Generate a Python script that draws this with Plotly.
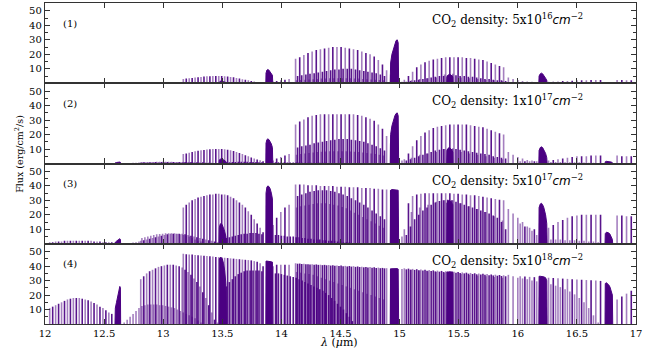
import plotly.graph_objects as go
from plotly.subplots import make_subplots

# ---------------- data ----------------
panel_labels = ["(1)", "(2)", "(3)", "(4)"]
density_labels = ["5x10<sup>16</sup>", "1x10<sup>17</sup>", "5x10<sup>17</sup>", "5x10<sup>18</sup>"]
x_ticks = [12, 12.5, 13, 13.5, 14, 14.5, 15, 15.5, 16, 16.5, 17]
y_ticks = [10, 20, 30, 40, 50]

# line positions (micron) and heights per panel [p1, p2, p3, p4]
x_A = [12.04, 12.065, 12.09, 12.115, 12.14, 12.165, 12.19, 12.215, 12.24, 12.265, 12.29,
       12.315, 12.34, 12.365, 12.39, 12.415, 12.44, 12.465, 12.49, 12.515, 12.54, 12.565]
h_A = [[0.2, 0.2, 0.2, 0.2, 0.2, 0.2, 0.2, 0.2, 0.2, 0.2, 0.2, 0.2, 0.2, 0.2, 0.2, 0.2, 0.2, 0.2, 0.2, 0.2, 0.2, 0.2],
       [0.3, 0.3, 0.3, 0.3, 0.4, 0.4, 0.4, 0.4, 0.4, 0.4, 0.4, 0.4, 0.4, 0.4, 0.4, 0.4, 0.3, 0.3, 0.3, 0.3, 0.3, 0.3],
       [1, 1, 1.5, 1.5, 1.5, 2, 2, 2, 2, 2, 2, 2, 2, 2, 2, 1.5, 1.5, 1.5, 1, 1, 1, 1],
       [11, 12, 13, 14, 15, 16, 17, 17.5, 18, 18, 18, 17.5, 17, 16.5, 15.5, 14.5, 13.5, 12, 11, 9.5, 8, 7]]

x_B = [12.67, 12.695, 12.72, 12.745, 12.77, 12.795, 12.82, 12.845, 12.87, 12.895, 12.92, 12.945, 12.97,
       12.995, 13.02, 13.045, 13.07, 13.095, 13.12, 13.145, 13.17, 13.195, 13.22, 13.245, 13.27, 13.295, 13.32]
h_B = [[0.2, 0.2, 0.2, 0.3, 0.3, 0.3, 0.4, 0.4, 0.4, 0.4, 0.4, 0.4, 0.4, 0.4, 0.4, 0.4, 0.4, 0.4, 0.4, 0.3, 0.3, 0.3, 0.3, 0.2, 0.2, 0.2, 0.2],
       [0.2, 0.3, 0.4, 0.5, 0.6, 0.7, 1, 1, 1, 1.1, 1.1, 1.2, 1.2, 1.2, 1.2, 1.2, 1.2, 1.1, 1.1, 1, 1, 0.9, 0.8, 0.7, 0.6, 0.5, 0.4],
       [0.3, 0.5, 0.5, 0.8, 1, 1.5, 4, 4.5, 5, 5.5, 6, 6.5, 6.8, 7, 7.2, 7.3, 7.3, 7.2, 7, 6.5, 6, 5.5, 5, 4, 3, 2, 1.5],
       [1, 3, 5, 7, 9, 11, 12.5, 13, 13.5, 13.5, 13.5, 13.5, 13, 13, 12.5, 12, 11.5, 11, 10, 9, 8, 7, 6, 5, 4, 2.5, 1]]

x_Y = [12.81, 12.835, 12.86, 12.885, 12.91, 12.935, 12.96, 12.985, 13.01, 13.035, 13.06, 13.085, 13.11, 13.135,
       13.16, 13.185, 13.21, 13.235, 13.26, 13.285, 13.31, 13.335, 13.36, 13.385, 13.41, 13.435, 13.46]
h_Y = [[0.3, 0.3, 0.3, 0.3, 0.3, 0.3, 0.3, 0.3, 0.3, 0.3, 0.3, 0.3, 0.3, 0.3, 0.3, 0.3, 0.3, 0.3, 0.3, 0.3, 0.3, 0.3, 0.3, 0.3, 0.3, 0.3, 0.3],
       [0.8, 0.8, 0.9, 0.9, 1, 1, 1, 1, 1, 1, 1, 1, 1, 1, 1, 1, 1, 1, 0.9, 0.9, 0.8, 0.8, 0.7, 0.6, 0.5, 0.4, 0.3],
       [2, 2.5, 3, 3.5, 4, 4.5, 5, 5.5, 6, 6.5, 7, 7, 7, 7, 7, 6.5, 6, 5.5, 5, 4.5, 4, 3.5, 3, 2.5, 2, 1.5, 1],
       [31, 33, 35, 36.5, 37.5, 38.5, 39.5, 40, 40.5, 41, 41, 41, 40.5, 40, 39, 37.5, 36, 34, 31.5, 29, 26, 22, 18, 13, 8, 3, 1]]

x_C = [13.17, 13.195, 13.22, 13.245, 13.27, 13.295, 13.32, 13.345, 13.37, 13.395, 13.42, 13.445, 13.47, 13.495,
       13.52, 13.545, 13.57, 13.595, 13.62, 13.645, 13.67, 13.695, 13.72, 13.745, 13.77, 13.795, 13.82, 13.845]
h_C = [[3, 3.2, 3.5, 3.7, 4, 4.2, 4.4, 4.6, 4.8, 4.9, 5, 5, 5, 5, 4.9, 4.7, 4.4, 4.1, 3.7, 3.3, 2.8, 2.4, 2, 1.6, 1.2, 0.9, 0.6, 0.4],
       [6.5, 7, 7.5, 8, 8.5, 8.8, 9.1, 9.4, 9.6, 9.8, 10, 10, 10, 10, 9.8, 9.5, 9.1, 8.6, 8, 7.3, 6.5, 5.7, 5, 4.2, 3.5, 2.8, 2.2, 1.6],
       [25, 27, 28.5, 30, 31, 32, 32.5, 33, 33.5, 34, 34, 34.5, 34.5, 34, 34, 33.5, 32.5, 31.5, 30, 28.5, 27, 25, 22.5, 20, 17, 14, 11, 8],
       [48.5, 48.3, 48.1, 48, 47.8, 47.6, 47.4, 47.2, 47, 46.8, 46.6, 46.4, 46.2, 46, 45.8, 45.6, 45.4, 45.2, 45, 44.8, 44.6, 44.4, 44.2, 44, 43.5, 43, 42, 40]]

x_D = [13.535, 13.56, 13.585, 13.61, 13.635, 13.66, 13.685, 13.71, 13.735, 13.76, 13.785, 13.81, 13.835, 13.95,
       13.975, 14.0, 14.025, 14.05, 14.075, 14.1, 14.125, 14.15, 14.175, 14.2, 14.225, 14.25, 14.275, 14.3,
       14.325, 14.35, 14.375, 14.4, 14.425, 14.45, 14.475, 14.5, 14.525, 14.55, 14.575, 14.6]
h_D = [[0.3, 0.3, 0.3, 0.3, 0.3, 0.3, 0.3, 0.3, 0.3, 0.3, 0.3, 0.3, 0.3, 0.3, 0.3, 0.3, 0.3, 0.3, 0.3, 0.3,
        0.3, 0.3, 0.3, 0.3, 0.3, 0.3, 0.3, 0.3, 0.3, 0.3, 0.3, 0.3, 0.3, 0.3, 0.3, 0.3, 0.3, 0.3, 0.3, 0.3],
       [0.8, 0.9, 1, 1.1, 1.2, 1.2, 1.2, 1.2, 1.1, 1, 1, 0.9, 0.9, 0.8, 0.8, 0.8, 0.8, 0.7, 0.7, 0.7,
        0.7, 0.7, 0.6, 0.6, 0.6, 0.6, 0.5, 0.5, 0.5, 0.5, 0.5, 0.4, 0.4, 0.4, 0.4, 0.3, 0.3, 0.3, 0.3, 0.2],
       [4, 4.5, 5, 5.5, 6, 6.5, 7, 7, 7.5, 7.5, 7.5, 7, 6.5, 6, 6, 5.5, 5.5, 5, 5, 5,
        4.5, 4.5, 4, 4, 3.5, 3.5, 3, 3, 3, 2.5, 2.5, 2, 2, 2, 1.5, 1.5, 1, 1, 1, 0.5],
       [26, 29, 31, 33, 34.5, 35.5, 36.5, 37, 37, 37, 37, 37, 36.5, 35, 35, 34.5, 34, 33.5, 33, 32.5,
        32, 31, 30, 29, 28, 27, 26, 25, 24, 23, 21.5, 20, 18, 16, 14, 12, 10, 7.5, 5, 2]]

x_E = [13.93, 13.96, 13.995, 14.03, 14.065]
h_E = [[1, 1.5, 2, 2.5, 3],
       [2, 3.5, 4.5, 5.5, 6.5],
       [13, 18, 22, 25, 27],
       [40, 41, 41, 41, 41]]

x_R1 = [14.12, 14.155, 14.19, 14.225, 14.26, 14.295, 14.33, 14.365, 14.40, 14.435, 14.47, 14.505,
        14.54, 14.575, 14.61, 14.645, 14.68, 14.715, 14.75, 14.785, 14.82, 14.855, 14.89, 14.925]
h_R1 = [[17, 18, 19.5, 21, 22, 23, 23.5, 24, 24.5, 25, 25, 25, 24.5, 24, 23.5, 23, 22, 21, 20, 18.5, 16, 13, 9, 6],
        [27, 29, 30.5, 32, 33, 33.5, 34, 34, 34, 34, 34, 34, 34, 34, 34, 33.5, 33, 32, 31, 29.5, 27, 24, 19, 14],
        [41, 41, 41, 40.5, 40.5, 40.5, 40, 40, 40, 40, 39.5, 39.5, 39.5, 39, 39, 39, 38.5, 38.5, 38.5, 38, 38, 37.5, 37.5, 37],
        [42, 41.8, 41.6, 41.4, 41.3, 41.2, 41, 40.9, 40.8, 40.6, 40.5, 40.4, 40.2, 40.1, 40, 39.8, 39.6, 39.5, 39.4, 39.2, 39, 38.8, 38.6, 38.4]]

x_R2 = [14.137, 14.172, 14.207, 14.242, 14.277, 14.312, 14.347, 14.382, 14.417, 14.452, 14.487,
        14.522, 14.557, 14.592, 14.627, 14.662, 14.697, 14.732, 14.767, 14.802, 14.837, 14.872]
h_R2 = [[5, 5.5, 6, 6.5, 7, 7.5, 8, 8.5, 9, 9.5, 9.5, 10, 10, 10, 9.5, 9, 8.5, 8, 7.5, 7, 6, 5],
        [11, 12, 12.5, 13, 14, 14.5, 15, 15.5, 16, 16.5, 17, 17, 17, 16.5, 16, 15.5, 15, 14, 13, 12, 10.5, 9],
        [33, 34, 35, 36, 36.5, 37, 37, 37, 36.5, 36, 35, 34, 33, 31.5, 30, 28.5, 27, 25, 23, 21, 19, 17],
        [41.7, 41.5, 41.3, 41.2, 41, 40.9, 40.7, 40.6, 40.4, 40.3, 40.1, 40, 39.8, 39.7, 39.5, 39.4, 39.2, 39.1, 38.9, 38.8, 38.6, 38.5]]

x_R3 = [14.129, 14.164, 14.199, 14.234, 14.269, 14.304, 14.339, 14.374, 14.409, 14.444, 14.479,
        14.514, 14.549, 14.584, 14.619, 14.654, 14.689, 14.724, 14.759, 14.794, 14.829, 14.864]
h_R3 = [[2, 2.2, 2.4, 2.6, 2.8, 3, 3.2, 3.3, 3.4, 3.5, 3.5, 3.5, 3.5, 3.4, 3.3, 3.2, 3, 2.8, 2.6, 2.4, 2.2, 2],
        [6, 6.5, 7, 7.3, 7.6, 7.9, 8.1, 8.3, 8.4, 8.5, 8.5, 8.5, 8.4, 8.3, 8.1, 7.9, 7.6, 7.3, 7, 6.5, 6, 5.5],
        [25, 26, 26.5, 27, 27.5, 28, 28, 28, 27.5, 27, 26.5, 25.5, 24.5, 23, 21.5, 20, 18.5, 17, 15.5, 14, 12.5, 11],
        [36, 35.5, 35, 34.5, 34, 33, 32, 31, 30, 29, 28, 27, 26, 25, 24, 23, 22, 21, 20, 19, 18, 17]]

x_P1 = [15.04, 15.075, 15.11, 15.145, 15.18, 15.215, 15.25, 15.285, 15.32, 15.355, 15.39, 15.425, 15.46,
        15.495, 15.53, 15.565, 15.6, 15.635, 15.67, 15.705, 15.74, 15.775, 15.81, 15.845, 15.88]
h_P1 = [[2.5, 5, 8, 11, 13, 14.5, 15.5, 16.5, 17, 17.5, 18, 18, 18, 18, 18, 17.5, 17.5, 17, 16.5, 16, 15, 14, 13, 12, 11],
        [3, 7, 12, 16, 19, 21.5, 23, 24.5, 25.5, 26, 26.5, 27, 27, 27, 27, 27, 26.5, 26, 25.5, 25, 24, 23, 22, 21, 20],
        [10, 28, 33, 34, 34.5, 35, 35, 35, 35, 35, 35, 35, 34.5, 34.5, 34, 34, 33.5, 33.5, 33, 32.5, 32, 31.5, 31, 30.5, 30],
        [38.5, 38.3, 38.1, 37.9, 37.7, 37.5, 37.3, 37.1, 36.9, 36.7, 36.5, 36.3, 36.1, 35.9, 35.7, 35.5, 35.3, 35.1, 34.9, 34.7, 34.5, 34.3, 34.1, 33.9, 33.7]]

x_P2 = [15.057, 15.092, 15.127, 15.162, 15.197, 15.232, 15.267, 15.302, 15.337, 15.372, 15.407, 15.442, 15.477,
        15.512, 15.547, 15.582, 15.617, 15.652, 15.687, 15.722, 15.757, 15.792, 15.827, 15.862, 15.897]
h_P2 = [[1, 1.5, 2, 2.5, 3, 3.5, 4, 4.5, 5, 5, 5.5, 5.5, 5.5, 5, 5, 4.5, 4.5, 4, 3.5, 3, 3, 2.5, 2, 2, 1.5],
        [2, 3, 4, 5, 6, 7, 8, 9, 9.5, 10, 10, 10, 10, 9.5, 9, 8.5, 8, 7.5, 7, 6.5, 6, 5, 4.5, 4, 3.5],
        [6, 12, 17, 20, 23, 25, 27, 28.5, 29.5, 30, 30.5, 30, 29, 28, 27, 26, 25, 24, 23, 22, 21, 19.5, 18, 15, 10],
        [37.8, 37.6, 37.4, 37.2, 37, 36.8, 36.6, 36.4, 36.2, 36, 35.8, 35.6, 35.4, 35.2, 35, 34.8, 34.6, 34.4, 34.2, 34, 33.8, 33.6, 33.4, 33.2, 33]]

x_P3 = [15.02, 15.1, 15.17, 15.24, 15.31, 15.38, 15.45, 15.52, 15.59, 15.66, 15.73, 15.8, 15.87]
h_P3 = [[1, 2, 3, 3.5, 4, 6, 6.5, 4, 3.5, 3, 2.5, 2, 1.5],
        [2, 4, 6, 7, 8, 10, 10.5, 8, 7, 6, 5, 4, 3],
        [5, 22, 25, 27, 29, 30, 30, 28, 26, 24, 22, 19, 16],
        [38, 37.5, 37, 36.5, 36, 35.5, 35, 34.5, 34, 33.5, 33, 32.5, 32]]

x_G = [15.92, 15.96, 16.0, 16.04, 16.08, 16.12, 16.16, 16.22, 16.28, 16.32, 16.36, 16.40, 16.44, 16.48,
       16.52, 16.56, 16.60, 16.64, 16.68]
h_G = [[4, 3, 2.2, 1.6, 1.2, 1, 0.8, 0.6, 0.6, 0.5, 0.5, 0.5, 0.5, 0.4, 0.4, 0.4, 0.3, 0.3, 0.2],
       [8, 6, 4.5, 3.5, 2.5, 2, 1.5, 1.2, 1, 1, 1, 0.9, 0.9, 0.8, 0.8, 0.7, 0.6, 0.5, 0.4],
       [24, 21, 18, 15, 12, 9, 6, 4, 3, 3, 3, 2.5, 2.5, 2.5, 2, 2, 1.5, 1.5, 1],
       [34, 33, 32, 31.5, 31, 30, 29.5, 28.5, 27.5, 26.5, 25.5, 24, 22.5, 20.5, 18, 15, 11, 6, 1]]

x_F = [16.02, 16.06, 16.1, 16.14, 16.26, 16.3, 16.34, 16.38, 16.42, 16.46, 16.5, 16.54, 16.58, 16.62,
       16.66, 16.7, 16.84, 16.88, 16.92, 16.96]
h_F = [[0.8, 0.8, 0.8, 0.8, 1, 1, 1.2, 1.5, 1.5, 1.8, 2, 2, 2, 2.2, 2.2, 2.2, 2.2, 2.2, 2, 2],
       [1.5, 1.5, 1.5, 1.5, 2, 2.5, 3, 3.5, 4, 4.5, 5, 5, 5, 5.5, 5.5, 5.5, 5.5, 5, 5, 5],
       [14, 12, 11, 10, 11, 13, 15, 16.5, 18, 19, 19.5, 20, 20, 20, 20, 20, 19.5, 19.5, 19, 19],
       [33, 32.8, 32.6, 32.4, 32, 31.8, 31.6, 31.4, 31.2, 31, 30.8, 30.6, 30.4, 30.2, 30, 29.8, 17, 19, 21, 23]]

# Q-branch profiles (dense, unresolved lines): x and heights per panel
q1263_x = [12.592, 12.595, 12.605, 12.615, 12.625, 12.633, 12.638, 12.64]
q1263_y = [[0, 0.3, 0.4, 0.5, 0.6, 0.6, 0.5, 0], [0, 0.5, 0.7, 0.9, 1, 1, 0.8, 0],
           [0, 1, 1.8, 2.5, 3.2, 3.5, 3, 0], [0, 11, 15, 19, 23, 26, 25, 0]]
q1348_x = [13.472, 13.475, 13.482, 13.49, 13.5, 13.51, 13.52, 13.53, 13.535]
q1348_y = [[0, 1, 1.4, 1.5, 1.4, 1.2, 1, 0.6, 0], [0, 2.5, 3, 3.2, 3, 2.6, 2, 1.4, 0],
           [0, 11, 13.5, 14, 13, 11, 8.5, 5, 0], [0, 45, 46, 46, 45, 42, 37, 28, 0]]
q1387_x = [13.868, 13.87, 13.877, 13.885, 13.895, 13.905, 13.915, 13.924, 13.927]
q1387_y = [[0, 7, 9, 9.5, 9, 8, 7, 5.5, 0], [0, 14, 16.5, 17, 16.5, 15, 13.5, 11, 0],
           [0, 35, 39, 40, 39.5, 38, 35, 31, 0], [0, 43.5, 43.5, 43.5, 43.3, 43, 43, 42.8, 0]]
q1498_x = [14.921, 14.924, 14.935, 14.948, 14.96, 14.97, 14.98, 14.988, 14.992]
q1498_y = [[0, 14, 20, 24, 27.5, 29.5, 30, 28, 0], [0, 20, 26, 30, 33, 34.5, 35, 33, 0],
           [0, 37, 37.5, 37.5, 37.5, 37.5, 37.5, 37, 0], [0, 38, 38.2, 38.3, 38.3, 38.3, 38.3, 38, 0]]
q1542_x = [15.398, 15.4, 15.41, 15.42, 15.43, 15.44, 15.45, 15.452]
q1542_y = [[0, 4.5, 5.5, 6.2, 6, 5.3, 4.5, 0], [0, 9, 10.5, 11, 10.5, 9.5, 8, 0],
           [0, 28, 29.5, 30, 29.5, 28.5, 27, 0], [0, 36, 36, 36, 36, 36, 36, 0]]
q1618_x = [16.178, 16.18, 16.19, 16.2, 16.21, 16.22, 16.235, 16.245, 16.248]
q1618_y = [[0, 5, 6.5, 7, 6.5, 5.5, 3.5, 2, 0], [0, 9, 11, 11.5, 11, 9.5, 7, 4, 0],
           [0, 25, 27.5, 28, 27, 25, 20, 14, 0], [0, 33, 33, 33, 32.8, 32.6, 32, 30, 0]]
q1675_x = [16.738, 16.74, 16.75, 16.76, 16.77, 16.78, 16.79, 16.8, 16.803]
q1675_y = [[0, 0.4, 0.5, 0.5, 0.5, 0.4, 0.3, 0.2, 0], [0, 1.2, 1.5, 1.5, 1.4, 1.2, 1, 0.6, 0],
           [0, 7, 8, 8, 7.5, 6.5, 5, 3, 0], [0, 28, 28.5, 28, 27, 25.5, 23, 20, 0]]

# ---------------- figure ----------------
DARK = "rgba(75,0,130,0.92)"
LIGHT = "rgba(75,0,130,0.5)"
SOLID = "#4b0082"
SERIF = "DejaVu Serif"

bands = [(x_A, h_A, "alt"), (x_B, h_B, "light"), (x_Y, h_Y, "alt"), (x_C, h_C, "alt"),
         (x_D, h_D, "dark"), (x_E, h_E, "alt"), (x_R3, h_R3, "light"), (x_R2, h_R2, "dark"),
         (x_R1, h_R1, "alt"), (x_P3, h_P3, "light"), (x_P2, h_P2, "dark"), (x_P1, h_P1, "alt"),
         (x_G, h_G, "light"), (x_F, h_F, "alt")]
blobs = [(q1263_x, q1263_y), (q1348_x, q1348_y), (q1387_x, q1387_y), (q1498_x, q1498_y),
         (q1542_x, q1542_y), (q1618_x, q1618_y), (q1675_x, q1675_y)]


def stems(xs, hs, keep):
    X, Y = [], []
    for i, (x, h) in enumerate(zip(xs, hs)):
        if keep(i):
            X += [x, x, None]
            Y += [0, h, None]
    return X, Y


fig = make_subplots(rows=4, cols=1, shared_xaxes=True, vertical_spacing=0)

for p in range(4):
    row = p + 1
    for xs, hh, style in bands:
        hs = hh[p]
        if style == "alt":
            parts = [(lambda i: i % 2 == 0, LIGHT), (lambda i: i % 2 == 1, DARK)]
        elif style == "light":
            parts = [(lambda i: True, LIGHT)]
        else:
            parts = [(lambda i: True, DARK)]
        for keep, col in parts:
            X, Y = stems(xs, hs, keep)
            fig.add_trace(go.Scatter(x=X, y=Y, mode="lines", line=dict(color=col, width=1.6),
                                     hoverinfo="skip", showlegend=False), row=row, col=1)
    for qx, qy in blobs:
        fig.add_trace(go.Scatter(x=qx, y=qy[p], mode="lines", fill="toself", fillcolor=SOLID,
                                 line=dict(color=SOLID, width=1), hoverinfo="skip",
                                 showlegend=False), row=row, col=1)

axis_common = dict(showline=True, linecolor="#333", linewidth=1.3, mirror="ticks",
                   ticks="inside", tickcolor="#333", tickwidth=1.1, showgrid=False,
                   zeroline=False, tickfont=dict(family=SERIF, size=10, color="black"))

fig.update_xaxes(range=[12, 17], tickvals=x_ticks, ticktext=[f"{v:g}" for v in x_ticks],
                 ticklen=5, **axis_common)
for r in range(1, 4):
    fig.update_xaxes(showticklabels=False, row=r, col=1)
fig.update_yaxes(range=[0, 55.5], tickvals=y_ticks, ticklen=5,
                 minor=dict(ticks="inside", ticklen=3, tickvals=[5, 15, 25, 35, 45],
                            tickcolor="#333", tickwidth=1),
                 **axis_common)

for p in range(4):
    xr = "x" if p == 0 else f"x{p + 1}"
    yr = "y" if p == 0 else f"y{p + 1}"
    fig.add_annotation(x=12.21, y=41.5, xref=xr, yref=yr, text=panel_labels[p], showarrow=False,
                       font=dict(family=SERIF, size=10, color="black"))
    fig.add_annotation(x=15.915, y=43.5, xref=xr, yref=yr,
                       text=("CO<sub>2</sub> density: " + density_labels[p] +
                             "<span style=\"font-family:DejaVu Sans\"><i>cm</i></span><sup>\u22122</sup>"),
                       showarrow=False, font=dict(family=SERIF, size=12, color="black"))

fig.add_annotation(x=(19 - 45) / 591, y=1 - (154 - 3) / 321.5, xref="paper", yref="paper",
                   text="Flux (erg/cm<sup>2</sup>/s)", xanchor="center", yanchor="middle",
                   textangle=-90, showarrow=False, font=dict(family=SERIF, size=9.5, color="black"))
fig.add_annotation(x=(339 - 45) / 591, y=1 - (343 - 3) / 321.5, xref="paper", yref="paper",
                   text="<i>\u03bb</i> (<i>\u03bc</i>m)", showarrow=False, xanchor="center",
                   yanchor="middle", font=dict(family=SERIF, size=11, color="black"))

fig.update_layout(width=656, height=357, margin=dict(l=45, r=20, t=3, b=33),
                  plot_bgcolor="white", paper_bgcolor="white", showlegend=False)

fig.write_html("out.html", config={"displayModeBar": False},
               post_script="document.body.style.margin='0';")
